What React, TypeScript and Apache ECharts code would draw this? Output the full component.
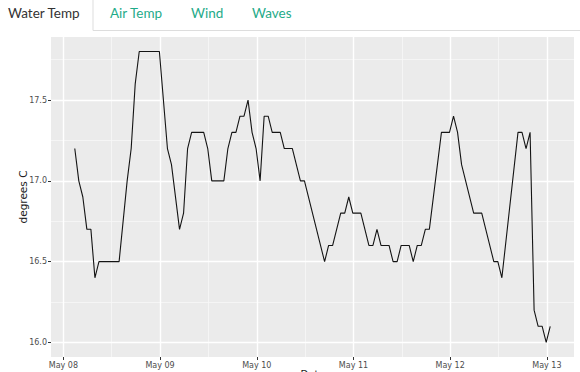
import React, { useEffect, useRef } from 'react';
import * as echarts from 'echarts';

// Observation times (local) and water temperature readings (degrees C)
const times = [
  '2023-05-08 02:50', '2023-05-08 03:50', '2023-05-08 04:50', '2023-05-08 05:50', '2023-05-08 06:50',
  '2023-05-08 07:50', '2023-05-08 08:50', '2023-05-08 13:50', '2023-05-08 15:50', '2023-05-08 16:50',
  '2023-05-08 17:50', '2023-05-08 18:50', '2023-05-08 23:50', '2023-05-09 01:50', '2023-05-09 02:50',
  '2023-05-09 04:50', '2023-05-09 05:50', '2023-05-09 06:50', '2023-05-09 07:50', '2023-05-09 10:50',
  '2023-05-09 11:50', '2023-05-09 12:50', '2023-05-09 15:50', '2023-05-09 16:50', '2023-05-09 17:50',
  '2023-05-09 18:50', '2023-05-09 19:50', '2023-05-09 20:50', '2023-05-09 21:50', '2023-05-09 22:50',
  '2023-05-09 23:50', '2023-05-10 00:50', '2023-05-10 01:50', '2023-05-10 02:50', '2023-05-10 03:50',
  '2023-05-10 05:50', '2023-05-10 06:50', '2023-05-10 08:50', '2023-05-10 10:50', '2023-05-10 11:50',
  '2023-05-10 16:50', '2023-05-10 17:50', '2023-05-10 18:50', '2023-05-10 20:50', '2023-05-10 21:50',
  '2023-05-10 22:50', '2023-05-10 23:50', '2023-05-11 01:50', '2023-05-11 03:50', '2023-05-11 04:50',
  '2023-05-11 05:50', '2023-05-11 06:50', '2023-05-11 08:50', '2023-05-11 09:50', '2023-05-11 10:50',
  '2023-05-11 11:50', '2023-05-11 13:50', '2023-05-11 14:50', '2023-05-11 15:50', '2023-05-11 16:50',
  '2023-05-11 17:50', '2023-05-11 18:50', '2023-05-11 21:50', '2023-05-11 23:50', '2023-05-12 00:50',
  '2023-05-12 01:50', '2023-05-12 02:50', '2023-05-12 05:50', '2023-05-12 07:50', '2023-05-12 10:50',
  '2023-05-12 11:50', '2023-05-12 12:50', '2023-05-12 16:50', '2023-05-12 17:50', '2023-05-12 18:50',
  '2023-05-12 19:50', '2023-05-12 20:50', '2023-05-12 21:50', '2023-05-12 22:50', '2023-05-12 23:50',
  '2023-05-13 00:50',
];

const waterTemp = [
  17.2, 17.0, 16.9, 16.7, 16.7,
  16.4, 16.5, 16.5, 17.0, 17.2,
  17.6, 17.8, 17.8, 17.2, 17.1,
  16.7, 16.8, 17.2, 17.3, 17.3,
  17.2, 17.0, 17.0, 17.2, 17.3,
  17.3, 17.4, 17.4, 17.5, 17.3,
  17.2, 17.0, 17.4, 17.4, 17.3,
  17.3, 17.2, 17.2, 17.0, 17.0,
  16.5, 16.6, 16.6, 16.8, 16.8,
  16.9, 16.8, 16.8, 16.6, 16.6,
  16.7, 16.6, 16.6, 16.5, 16.5,
  16.6, 16.6, 16.5, 16.6, 16.6,
  16.7, 16.7, 17.3, 17.3, 17.4,
  17.3, 17.1, 16.8, 16.8, 16.5,
  16.5, 16.4, 17.3, 17.3, 17.2,
  17.3, 16.2, 16.1, 16.1, 16.0,
  16.1,
];

// Axis breaks
const dayTicks = ['2023-05-08 00:00', '2023-05-09 00:00', '2023-05-10 00:00', '2023-05-11 00:00', '2023-05-12 00:00', '2023-05-13 00:00'];
const noonLines = ['2023-05-08 12:00', '2023-05-09 12:00', '2023-05-10 12:00', '2023-05-11 12:00', '2023-05-12 12:00'];
const yTicks = [16.0, 16.5, 17.0, 17.5];
const yMinor = [16.25, 16.75, 17.25, 17.75];
const monthNames = ['Jan', 'Feb', 'Mar', 'Apr', 'May', 'Jun', 'Jul', 'Aug', 'Sep', 'Oct', 'Nov', 'Dec'];

const tabs = ['Water Temp', 'Air Temp', 'Wind', 'Waves'];
const tabX = [8, 110, 191, 252];

function parseTime(s: string): number {
  const [d, t] = s.split(' ');
  const [y, m, dd] = d.split('-').map(Number);
  const [h, mi] = t.split(':').map(Number);
  return new Date(y, m - 1, dd, h, mi).getTime();
}

export default function App() {
  const ref = useRef<HTMLDivElement>(null);

  useEffect(() => {
    if (!ref.current) return;
    const chart = echarts.init(ref.current, null, { renderer: 'svg' });

    const ts = times.map(parseTime);
    const points = ts.map((t, i) => [t, waterTemp[i]]);
    const tMin = Math.min(...ts);
    const tMax = Math.max(...ts);
    const vMin = Math.min(...waterTemp);
    const vMax = Math.max(...waterTemp);
    const xPad = (tMax - tMin) * 0.05;
    const yPad = (vMax - vMin) * 0.05;
    const dayTs = dayTicks.map(parseTime);
    const noonTs = noonLines.map(parseTime);

    const fmtDay = (v: number) => {
      const d = new Date(v);
      return monthNames[d.getMonth()] + ' ' + String(d.getDate()).padStart(2, '0');
    };

    const minorStyle = { color: '#f7f7f7', width: 0.8, type: 'solid' };
    const majorStyle = { color: '#ffffff', width: 1.4, type: 'solid' };
    const gridLines: any[] = [
      ...yMinor.map((v) => ({ yAxis: v, lineStyle: minorStyle })),
      ...noonTs.map((v) => ({ xAxis: v, lineStyle: minorStyle })),
      ...yTicks.map((v) => ({ yAxis: v, lineStyle: majorStyle })),
      ...dayTs.map((v) => ({ xAxis: v, lineStyle: majorStyle })),
    ];

    const graphics: any[] = [
      {
        type: 'line',
        shape: { x1: 93, y1: 0, x2: 93, y2: 30.5 },
        style: { stroke: '#dddddd', lineWidth: 1 },
      },
      {
        type: 'line',
        shape: { x1: 93, y1: 30.5, x2: 580, y2: 30.5 },
        style: { stroke: '#dddddd', lineWidth: 1 },
      },
      ...tabs.map((t, i) => ({
        type: 'text',
        x: tabX[i],
        y: 13,
        style: {
          text: t,
          fill: i === 0 ? '#333333' : '#1fab89',
          font: '13.5px Lato',
          verticalAlign: 'middle',
        },
      })),
    ];

    chart.setOption({
      animation: false,
      backgroundColor: '#ffffff',
      grid: {
        left: 51,
        right: 6,
        top: 37,
        bottom: 15,
        show: true,
        backgroundColor: '#ebebeb',
        borderWidth: 0,
        containLabel: false,
        outerBoundsMode: 'none',
      },
      graphic: graphics,
      xAxis: {
        type: 'value',
        min: tMin - xPad,
        max: tMax + xPad,
        name: 'Date',
        nameLocation: 'middle',
        nameGap: 12,
        nameMoveOverlap: false,
        nameTextStyle: { fontSize: 10, color: '#222222', fontFamily: 'DejaVu Sans' },
        axisLine: { show: false },
        axisTick: { show: true, length: 3, lineStyle: { color: '#333333', width: 1 }, customValues: dayTs },
        axisLabel: {
          customValues: dayTs,
          formatter: (v: number) => fmtDay(v),
          fontSize: 8,
          color: '#4d4d4d',
          fontFamily: 'DejaVu Sans',
          margin: 4,
          hideOverlap: false,
        },
        splitLine: { show: false },
      },
      yAxis: {
        type: 'value',
        min: vMin - yPad,
        max: vMax + yPad,
        name: 'degrees C',
        nameLocation: 'middle',
        nameRotate: 90,
        nameGap: 23,
        nameMoveOverlap: false,
        nameTextStyle: { fontSize: 10.5, color: '#222222', fontFamily: 'DejaVu Sans' },
        axisLine: { show: false },
        axisTick: { show: true, length: 3, lineStyle: { color: '#333333', width: 1 }, customValues: yTicks },
        axisLabel: {
          customValues: yTicks,
          formatter: (v: number) => v.toFixed(1),
          fontSize: 8,
          color: '#4d4d4d',
          fontFamily: 'DejaVu Sans',
          margin: 4,
        },
        splitLine: { show: false },
      },
      series: [
        {
          type: 'line',
          data: points,
          silent: true,
          showSymbol: false,
          lineStyle: { opacity: 0 },
          z: 1,
          markLine: {
            silent: true,
            symbol: 'none',
            z: 1,
            label: { show: false },
            data: gridLines,
          },
        },
        {
          type: 'line',
          data: points,
          showSymbol: false,
          symbol: 'none',
          z: 10,
          lineStyle: { color: '#141414', width: 1.1 },
        },
      ],
    });

    return () => chart.dispose();
  }, []);

  return (
    <div
      ref={ref}
      style={{ position: 'absolute', left: 0, top: 0, width: 580, height: 372 }}
    />
  );
}
